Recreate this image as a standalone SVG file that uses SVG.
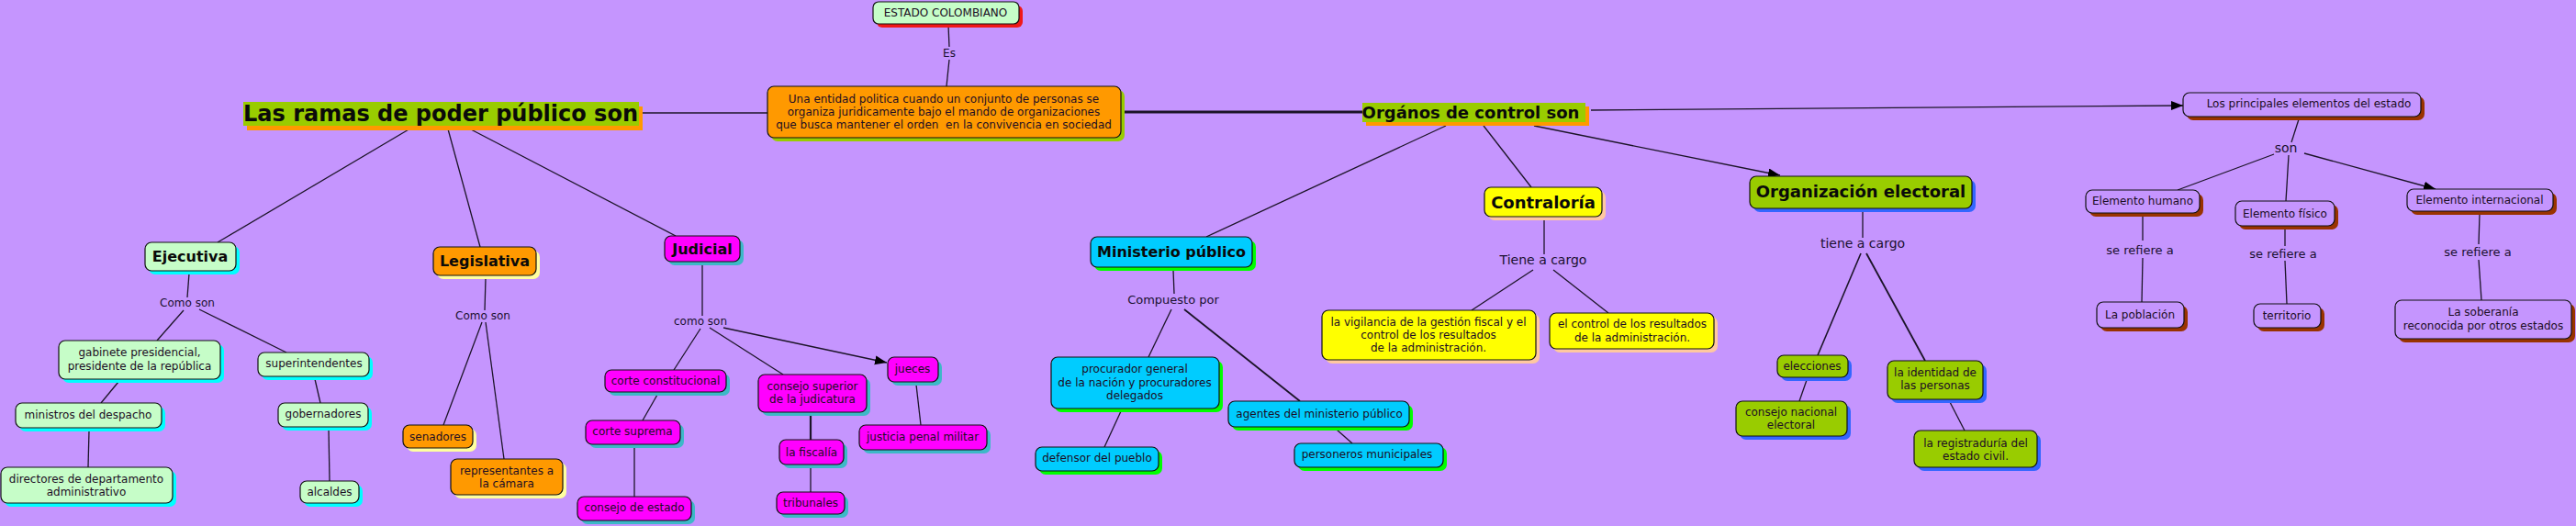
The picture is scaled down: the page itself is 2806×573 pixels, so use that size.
<svg xmlns="http://www.w3.org/2000/svg" width="2806" height="573" viewBox="0 0 2806 573">
<defs>
<style>
text{font-family:"DejaVu Sans","Verdana",sans-serif;font-size:12px;fill:#1c0d24;text-anchor:middle}
.b{font-weight:bold;font-size:16px;fill:#0a0a0a}
.b18{font-weight:bold;font-size:18px;fill:#0a0a0a}
.big{font-weight:bold;font-size:24px;fill:#0a0a0a}
.l12{font-size:12px;fill:#1a1030}
.l13{font-size:13px;fill:#1a1030}
.l14{font-size:14px;fill:#1a1030}
.bx{stroke:#111;stroke-width:1.2}
.lg{fill:#C6FDC8}.or{fill:#FF9900}.mg{fill:#FF00FF}.cy{fill:#00CCFF}.ye{fill:#FFFF00}.gr{fill:#99CC00}.pu{fill:#C595FE}
.s-cy{fill:#00FFFF}.s-ly{fill:#FFFFA0}.s-te{fill:#3DB8C8}.s-gn{fill:#00FF00}.s-pe{fill:#FFC8A0}.s-bl{fill:#3366FF}.s-br{fill:#993300}.s-rd{fill:#F01818}.s-og{fill:#FF9900}.s-gr{fill:#99CC00}
#connectors line{stroke:#1c1428;stroke-width:1.3;fill:none}
</style>
<marker id="arr" markerUnits="userSpaceOnUse" markerWidth="14" markerHeight="12" refX="13" refY="5" orient="auto">
<path d="M0,0 L13,5 L0,10 z" fill="#000"/>
</marker>
</defs>
<rect width="2806" height="573" fill="#C595FE"/>

<g id="connectors">
<line x1="1033" y1="27" x2="1034" y2="51"/>
<line x1="1034" y1="65" x2="1031" y2="94"/>
<line x1="700" y1="123" x2="836" y2="123"/>
<line x1="1221" y1="122" x2="1484" y2="122" style="stroke-width:3"/>
<line x1="452" y1="137" x2="237" y2="264"/>
<line x1="487" y1="137" x2="523" y2="269"/>
<line x1="513" y1="141" x2="736" y2="257"/>
<line x1="206" y1="298" x2="204" y2="324"/>
<line x1="200" y1="338" x2="171" y2="371"/>
<line x1="217" y1="337" x2="312" y2="384"/>
<line x1="129" y1="416" x2="110" y2="439"/>
<line x1="97" y1="469" x2="96" y2="509"/>
<line x1="343" y1="413" x2="349" y2="439"/>
<line x1="358" y1="468" x2="359" y2="524"/>
<line x1="529" y1="303" x2="528" y2="338"/>
<line x1="525" y1="351" x2="483" y2="463"/>
<line x1="529" y1="351" x2="549" y2="500"/>
<line x1="765" y1="288" x2="765" y2="344"/>
<line x1="763" y1="358" x2="734" y2="403"/>
<line x1="773" y1="357" x2="853" y2="408"/>
<line x1="788" y1="357" x2="966" y2="395" marker-end="url(#arr)"/>
<line x1="998" y1="419" x2="1003" y2="463"/>
<line x1="716" y1="430" x2="700" y2="458"/>
<line x1="691" y1="487" x2="691" y2="541"/>
<line x1="883" y1="452" x2="883" y2="479" style="stroke-width:2.2"/>
<line x1="883" y1="509" x2="883" y2="536"/>
<line x1="1575" y1="137" x2="1314" y2="258"/>
<line x1="1616" y1="137" x2="1668" y2="204"/>
<line x1="1671" y1="137" x2="1939" y2="191" marker-end="url(#arr)"/>
<line x1="1733" y1="120" x2="2378" y2="115" marker-end="url(#arr)"/>
<line x1="1278" y1="294" x2="1279" y2="320"/>
<line x1="1276" y1="337" x2="1251" y2="389"/>
<line x1="1290" y1="337" x2="1416" y2="437" style="stroke-width:1.8"/>
<line x1="1221" y1="448" x2="1203" y2="487"/>
<line x1="1456" y1="468" x2="1473" y2="483"/>
<line x1="1682" y1="239" x2="1682" y2="277"/>
<line x1="1670" y1="294" x2="1603" y2="338"/>
<line x1="1692" y1="294" x2="1752" y2="341"/>
<line x1="2029" y1="230" x2="2029" y2="259"/>
<line x1="2027" y1="276" x2="1980" y2="387" style="stroke-width:1.6"/>
<line x1="2033" y1="276" x2="2097" y2="393" style="stroke-width:1.8"/>
<line x1="1968" y1="414" x2="1960" y2="437"/>
<line x1="2124" y1="438" x2="2140" y2="469"/>
<line x1="2504" y1="130" x2="2496" y2="155"/>
<line x1="2477" y1="168" x2="2372" y2="207"/>
<line x1="2493" y1="169" x2="2490" y2="219"/>
<line x1="2510" y1="167" x2="2653" y2="206" marker-end="url(#arr)"/>
<line x1="2334" y1="235" x2="2334" y2="262"/>
<line x1="2334" y1="281" x2="2333" y2="329"/>
<line x1="2489" y1="249" x2="2489" y2="268"/>
<line x1="2489" y1="284" x2="2491" y2="331"/>
<line x1="2701" y1="233" x2="2700" y2="266"/>
<line x1="2700" y1="283" x2="2703" y2="327"/>
</g>

<g id="labels">
<text class="l12" x="1034" y="62">Es</text>
<text class="l12" x="204" y="334">Como son</text>
<text class="l12" x="526" y="348">Como son</text>
<text class="l12" x="763" y="354">como son</text>
<text class="l13" x="1278" y="331">Compuesto por</text>
<text class="l14" x="1681" y="288">Tiene a cargo</text>
<text class="l14" x="2029" y="270">tiene a cargo</text>
<text class="l14" x="2490" y="166">son</text>
<text class="l13" x="2331" y="277">se refiere a</text>
<text class="l13" x="2487" y="281">se refiere a</text>
<text class="l13" x="2699" y="279">se refiere a</text>
</g>

<g id="n-estado"><rect class="s-rd" x="955" y="6" width="159" height="24" rx="6"/><rect class="bx lg" x="951" y="2" width="159" height="24" rx="6"/><text x="1030" y="18">ESTADO COLOMBIANO</text></g>

<g id="n-central"><rect class="s-gr" x="840" y="98" width="385" height="56" rx="7"/><rect class="bx or" x="836" y="94" width="385" height="56" rx="7"/>
<text x="1028" y="112">Una entidad politica cuando un conjunto de personas se</text>
<text x="1028" y="126">organiza juridicamente bajo el mando de organizaciones</text>
<text x="1028" y="140">que busca mantener el orden&#160; en la convivencia en sociedad</text></g>

<g id="n-ramas"><rect class="s-og" x="269" y="116" width="431" height="26"/><rect class="gr" x="265" y="111" width="431" height="26"/><text class="big" x="480" y="132">Las ramas de poder público son</text></g>

<g id="n-ejecutiva"><rect class="s-cy" x="162" y="268" width="99" height="31" rx="7"/><rect class="bx lg" x="158" y="264" width="99" height="31" rx="7"/><text class="b" x="207" y="285">Ejecutiva</text></g>
<g id="n-legislativa"><rect class="s-ly" x="476" y="273" width="112" height="31" rx="7"/><rect class="bx or" x="472" y="269" width="112" height="31" rx="7"/><text class="b" x="528" y="290">Legislativa</text></g>
<g id="n-judicial"><rect class="s-te" x="728" y="261" width="82" height="28" rx="7"/><rect class="bx mg" x="724" y="257" width="82" height="28" rx="7"/><text class="b" x="765" y="277">Judicial</text></g>

<g id="n-gabinete"><rect class="s-cy" x="68" y="375" width="176" height="42" rx="7"/><rect class="bx lg" x="64" y="371" width="176" height="42" rx="7"/><text x="152" y="388">gabinete presidencial,</text><text x="152" y="403">presidente de la república</text></g>
<g id="n-super"><rect class="s-cy" x="285" y="388" width="121" height="26" rx="7"/><rect class="bx lg" x="281" y="384" width="121" height="26" rx="7"/><text x="342" y="400">superintendentes</text></g>
<g id="n-ministros"><rect class="s-cy" x="21" y="443" width="159" height="27" rx="7"/><rect class="bx lg" x="17" y="439" width="159" height="27" rx="7"/><text x="96" y="456">ministros del despacho</text></g>
<g id="n-directores"><rect class="s-cy" x="5" y="513" width="187" height="39" rx="7"/><rect class="bx lg" x="1" y="509" width="187" height="39" rx="7"/><text x="94" y="526">directores de departamento</text><text x="94" y="540">administrativo</text></g>
<g id="n-gobernadores"><rect class="s-cy" x="307" y="443" width="98" height="26" rx="7"/><rect class="bx lg" x="303" y="439" width="98" height="26" rx="7"/><text x="352" y="455">gobernadores</text></g>
<g id="n-alcaldes"><rect class="s-cy" x="331" y="528" width="64" height="24" rx="7"/><rect class="bx lg" x="327" y="524" width="64" height="24" rx="7"/><text x="359" y="540">alcaldes</text></g>

<g id="n-senadores"><rect class="s-ly" x="443" y="467" width="76" height="25" rx="7"/><rect class="bx or" x="439" y="463" width="76" height="25" rx="7"/><text x="477" y="480">senadores</text></g>
<g id="n-representantes"><rect class="s-ly" x="495" y="504" width="122" height="39" rx="7"/><rect class="bx or" x="491" y="500" width="122" height="39" rx="7"/><text x="552" y="517">representantes a</text><text x="552" y="531">la cámara</text></g>

<g id="n-corteconst"><rect class="s-te" x="663" y="407" width="132" height="24" rx="7"/><rect class="bx mg" x="659" y="403" width="132" height="24" rx="7"/><text x="725" y="419">corte constitucional</text></g>
<g id="n-consejosup"><rect class="s-te" x="830" y="412" width="118" height="41" rx="7"/><rect class="bx mg" x="826" y="408" width="118" height="41" rx="7"/><text x="885" y="425">consejo superior</text><text x="885" y="439">de la judicatura</text></g>
<g id="n-jueces"><rect class="s-te" x="971" y="393" width="55" height="27" rx="7"/><rect class="bx mg" x="967" y="389" width="55" height="27" rx="7"/><text x="994" y="406">jueces</text></g>
<g id="n-justicia"><rect class="s-te" x="940" y="467" width="139" height="27" rx="7"/><rect class="bx mg" x="936" y="463" width="139" height="27" rx="7"/><text x="1005" y="480">justicia penal militar</text></g>
<g id="n-cortesup"><rect class="s-te" x="642" y="462" width="103" height="26" rx="7"/><rect class="bx mg" x="638" y="458" width="103" height="26" rx="7"/><text x="689" y="474">corte suprema</text></g>
<g id="n-consejoestado"><rect class="s-te" x="633" y="545" width="124" height="26" rx="7"/><rect class="bx mg" x="629" y="541" width="124" height="26" rx="7"/><text x="691" y="557">consejo de estado</text></g>
<g id="n-fiscalia"><rect class="s-te" x="853" y="483" width="70" height="27" rx="7"/><rect class="bx mg" x="849" y="479" width="70" height="27" rx="7"/><text x="884" y="497">la fiscalía</text></g>
<g id="n-tribunales"><rect class="s-te" x="850" y="540" width="74" height="24" rx="7"/><rect class="bx mg" x="846" y="536" width="74" height="24" rx="7"/><text x="883" y="552">tribunales</text></g>

<g id="n-organos"><rect class="s-og" x="1488" y="116" width="243" height="21"/><rect class="gr" x="1484" y="112" width="243" height="21"/><text class="b18" x="1602" y="129">Orgános de control son</text></g>

<g id="n-ministerio"><rect class="s-gn" x="1192" y="262" width="176" height="33" rx="7"/><rect class="bx cy" x="1188" y="258" width="176" height="33" rx="7"/><text class="b" x="1276" y="280">Ministerio público</text></g>
<g id="n-procurador"><rect class="s-gn" x="1149" y="393" width="183" height="56" rx="7"/><rect class="bx cy" x="1145" y="389" width="183" height="56" rx="7"/><text x="1236" y="406">procurador general</text><text x="1236" y="421">de la nación y procuradores</text><text x="1236" y="435">delegados</text></g>
<g id="n-defensor"><rect class="s-gn" x="1132" y="491" width="134" height="26" rx="7"/><rect class="bx cy" x="1128" y="487" width="134" height="26" rx="7"/><text x="1195" y="503">defensor del pueblo</text></g>
<g id="n-agentes"><rect class="s-gn" x="1342" y="441" width="197" height="28" rx="7"/><rect class="bx cy" x="1338" y="437" width="197" height="28" rx="7"/><text x="1437" y="455">agentes del ministerio público</text></g>
<g id="n-personeros"><rect class="s-gn" x="1414" y="487" width="162" height="26" rx="7"/><rect class="bx cy" x="1410" y="483" width="162" height="26" rx="7"/><text x="1489" y="499">personeros municipales</text></g>

<g id="n-contraloria"><rect class="s-pe" x="1621" y="208" width="128" height="32" rx="7"/><rect class="bx ye" x="1617" y="204" width="128" height="32" rx="7"/><text class="b18" x="1681" y="227">Contraloría</text></g>
<g id="n-vigilancia"><rect class="s-pe" x="1444" y="342" width="233" height="54" rx="7"/><rect class="bx ye" x="1440" y="338" width="233" height="54" rx="7"/><text x="1556" y="355">la vigilancia de la gestión fiscal y el</text><text x="1556" y="369">control de los resultados</text><text x="1556" y="383">de la administración.</text></g>
<g id="n-control"><rect class="s-pe" x="1692" y="345" width="179" height="39" rx="7"/><rect class="bx ye" x="1688" y="341" width="179" height="39" rx="7"/><text x="1778" y="357">el control de los resultados</text><text x="1778" y="372">de la administración.</text></g>

<g id="n-organizacion"><rect class="s-bl" x="1910" y="196" width="242" height="35" rx="7"/><rect class="bx gr" x="1906" y="192" width="242" height="35" rx="7"/><text class="b18" x="2027" y="215">Organización electoral</text></g>
<g id="n-elecciones"><rect class="s-bl" x="1940" y="391" width="77" height="24" rx="7"/><rect class="bx gr" x="1936" y="387" width="77" height="24" rx="7"/><text x="1974" y="403">elecciones</text></g>
<g id="n-consejonac"><rect class="s-bl" x="1895" y="441" width="121" height="38" rx="7"/><rect class="bx gr" x="1891" y="437" width="121" height="38" rx="7"/><text x="1951" y="453">consejo nacional</text><text x="1951" y="467">electoral</text></g>
<g id="n-identidad"><rect class="s-bl" x="2060" y="397" width="104" height="42" rx="7"/><rect class="bx gr" x="2056" y="393" width="104" height="42" rx="7"/><text x="2108" y="410">la identidad de</text><text x="2108" y="424">las personas</text></g>
<g id="n-registraduria"><rect class="s-bl" x="2089" y="473" width="134" height="40" rx="7"/><rect class="bx gr" x="2085" y="469" width="134" height="40" rx="7"/><text x="2152" y="487">la registraduría del</text><text x="2152" y="501">estado civil.</text></g>

<g id="n-principales"><rect class="s-br" x="2382" y="105" width="259" height="26" rx="7"/><rect class="bx pu" x="2378" y="101" width="259" height="26" rx="7"/><text x="2515" y="117">Los principales elementos del estado</text></g>
<g id="n-humano"><rect class="s-br" x="2276" y="211" width="124" height="25" rx="7"/><rect class="bx pu" x="2272" y="207" width="124" height="25" rx="7"/><text x="2334" y="223">Elemento humano</text></g>
<g id="n-fisico"><rect class="s-br" x="2439" y="223" width="108" height="27" rx="7"/><rect class="bx pu" x="2435" y="219" width="108" height="27" rx="7"/><text x="2489" y="237">Elemento físico</text></g>
<g id="n-internacional"><rect class="s-br" x="2626" y="210" width="159" height="24" rx="7"/><rect class="bx pu" x="2622" y="206" width="159" height="24" rx="7"/><text x="2701" y="222">Elemento internacional</text></g>
<g id="n-poblacion"><rect class="s-br" x="2288" y="333" width="95" height="28" rx="7"/><rect class="bx pu" x="2284" y="329" width="95" height="28" rx="7"/><text x="2331" y="347">La población</text></g>
<g id="n-territorio"><rect class="s-br" x="2459" y="335" width="73" height="26" rx="7"/><rect class="bx pu" x="2455" y="331" width="73" height="26" rx="7"/><text x="2491" y="348">territorio</text></g>
<g id="n-soberania"><rect class="s-br" x="2613" y="331" width="192" height="42" rx="7"/><rect class="bx pu" x="2609" y="327" width="192" height="42" rx="7"/><text x="2705" y="344">La soberanía</text><text x="2705" y="359">reconocida por otros estados</text></g>
</svg>
